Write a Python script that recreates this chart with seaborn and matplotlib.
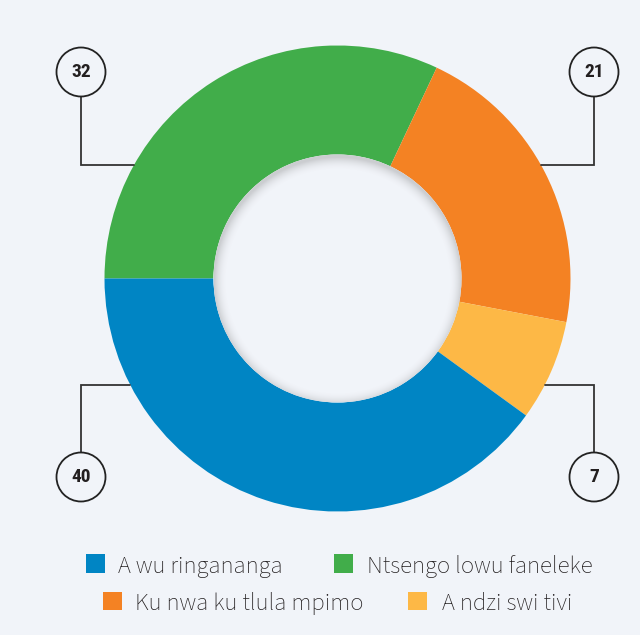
import numpy as np
import matplotlib
matplotlib.use("Agg")
import matplotlib.pyplot as plt
from matplotlib.patches import Circle, Rectangle
import seaborn as sns

# Survey answers (percent)
labels = ["A wu ringananga", "Ntsengo lowu faneleke", "Ku nwa ku tlula mpimo", "A ndzi swi tivi"]
values = [40, 32, 21, 7]
colors = ["#0085c4", "#41ad4a", "#f48223", "#fdb846"]

sns.set_style("white")
plt.rcParams["font.family"] = ["Source Sans 3", "DejaVu Sans"]

BG = "#f1f4f9"
W, H = 640, 635
fig = plt.figure(figsize=(W / 100, H / 100), dpi=100, facecolor=BG)
ax = fig.add_axes([0, 0, 1, 1])
ax.set_facecolor(BG)

def Y(y):
    return H - y

cx, cy = 337.5, Y(278.5)
r_out, r_in = 233, 124

# wedges go clockwise from 9 o'clock: green, orange, yellow, blue
order = [1, 2, 3, 0]
ax.pie([values[i] for i in order], colors=[colors[i] for i in order],
       startangle=180, counterclock=False, center=(cx, cy), radius=r_out,
       wedgeprops=dict(width=r_out - r_in, linewidth=0), frame=True)

# soft inner shadow around the hole
n = 400
xs = np.linspace(cx - r_in, cx + r_in, n)
ys = np.linspace(cy - r_in, cy + r_in, n)
XX, YY = np.meshgrid(xs, ys)
d = np.hypot(XX - cx, YY - (cy - 3))
a = np.clip(1 - (r_in - d) / 13, 0, 1) ** 2 * 0.3
rgba = np.zeros((n, n, 4))
rgba[..., :3] = 0.45
rgba[..., 3] = a
hole = Circle((cx, cy), r_in, facecolor=BG, edgecolor="none", zorder=3)
ax.add_patch(hole)
im = ax.imshow(rgba, extent=(cx - r_in, cx + r_in, cy - r_in, cy + r_in),
               origin="lower", zorder=4, interpolation="bilinear")
im.set_clip_path(hole)

# callouts: value bubble with an elbow line to the ring
callouts = [
    (values[1], (81, 72), 164.5, -1),
    (values[2], (594, 72), 164.5, 1),
    (values[0], (81, 477), 384.5, -1),
    (values[3], (594, 477), 384.5, 1),
]
for val, (bx, by), ly, side in callouts:
    dy = Y(ly) - cy
    ex = cx + side * np.sqrt(r_out ** 2 - dy ** 2)
    start = by + 24.5 if by < ly else by - 24.5
    ax.plot([bx, bx, ex], [Y(start), Y(ly), Y(ly)], color="#333333", lw=1.3,
            solid_joinstyle="miter", zorder=2)
    ax.add_patch(Circle((bx, Y(by)), 24.5, facecolor=BG, edgecolor="#222222",
                        lw=1.3, zorder=5))
    ax.text(bx, Y(by), str(val), ha="center", va="center", fontsize=14,
            fontweight="bold", family="Roboto Condensed", color="#231f20", zorder=6)

# legend: (square left, square centre y, text left, text baseline)
legend_pos = [(86, 563.5, 118, 572.7), (334, 563.5, 367, 572.7),
              (103, 601, 135, 610.2), (408, 601, 442, 610.2)]
for (sx, sy, tx, tb), lab, col in zip(legend_pos, labels, colors):
    ax.add_patch(Rectangle((sx, Y(sy) - 9.3), 19, 18.6, facecolor=col, edgecolor="none"))
    ax.text(tx, Y(tb), lab, ha="left", va="baseline", fontsize=17.8,
            fontweight="medium", color="#231f20")

ax.set_xlim(0, W)
ax.set_ylim(0, H)
ax.set_aspect("equal")
ax.axis("off")
fig.savefig("out.png", dpi=100, facecolor=BG)
